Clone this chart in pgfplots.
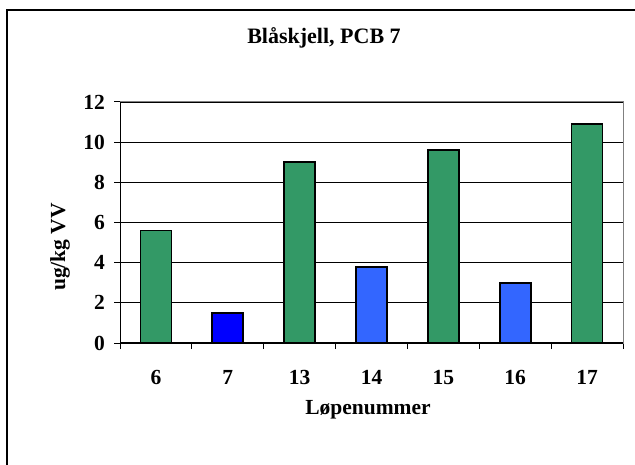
\documentclass[border=0pt]{standalone}
\usepackage{pgfplots}
\pgfplotsset{compat=1.18}
\usepackage{fontspec}
\setmainfont{Liberation Serif}
\definecolor{bargreen}{RGB}{51,153,102}
\definecolor{bardblue}{RGB}{0,0,255}
\definecolor{barlblue}{RGB}{51,102,255}
\begin{document}
\begin{tikzpicture}[x=1pt,y=1pt]
\useasboundingbox (0,0) rectangle (635,464);
\fill[white] (0,0) rectangle (635,464);
\draw[line width=1.6pt] (7,-10) -- (7,454) -- (645,454);
\node[font=\bfseries\fontsize{22}{26}\selectfont] at (324,426) {Blåskjell, PCB 7};
\node[font=\bfseries\fontsize{21.5}{25}\selectfont, rotate=90] at (60,217) {ug/kg VV};
\node[font=\bfseries\fontsize{21.5}{25}\selectfont] at (368,54) {Løpenummer};
\begin{axis}[
  at={(120pt,121pt)}, anchor=south west,
  scale only axis, width=503pt, height=241pt,
  xmin=-0.5, xmax=6.5, ymin=0, ymax=12,
  ytick={0,2,...,12},
  xtick={-0.5,0.5,...,6.5},
  xticklabels={},
  extra x ticks={0,1,2,3,4,5,6},
  extra x tick labels={6,7,13,14,15,16,17},
  extra x tick style={major tick length=0pt, grid=none},
  tick align=outside, tick pos=left,
  major tick length=6pt,
  tick style={black, line width=1pt},
  ymajorgrids, grid style={black, line width=0.9pt},
  axis line style={gray, line width=1pt},
  /pgf/number format/assume math mode=true,
  tick label style={font=\bfseries\fontsize{21.5}{25}\selectfont},
  yticklabel style={anchor=east, inner sep=0pt, xshift=-9pt},
  xticklabel style={anchor=north, inner sep=0pt, yshift=-27pt},
]
\addplot[ybar, bar width=31pt, bar shift=0pt, fill=bargreen, draw=black, line width=1.8pt] coordinates {(0,5.6) (2,9.0) (4,9.6) (6,10.9)};
\addplot[ybar, bar width=31pt, bar shift=0pt, fill=bardblue, draw=black, line width=1.8pt] coordinates {(1,1.5)};
\addplot[ybar, bar width=31pt, bar shift=0pt, fill=barlblue, draw=black, line width=1.8pt] coordinates {(3,3.8) (5,3.0)};
\draw[black, line width=1.5pt] (rel axis cs:0,1) -- (rel axis cs:0,0) -- (rel axis cs:1,0);
\end{axis}
\end{tikzpicture}
\end{document}
